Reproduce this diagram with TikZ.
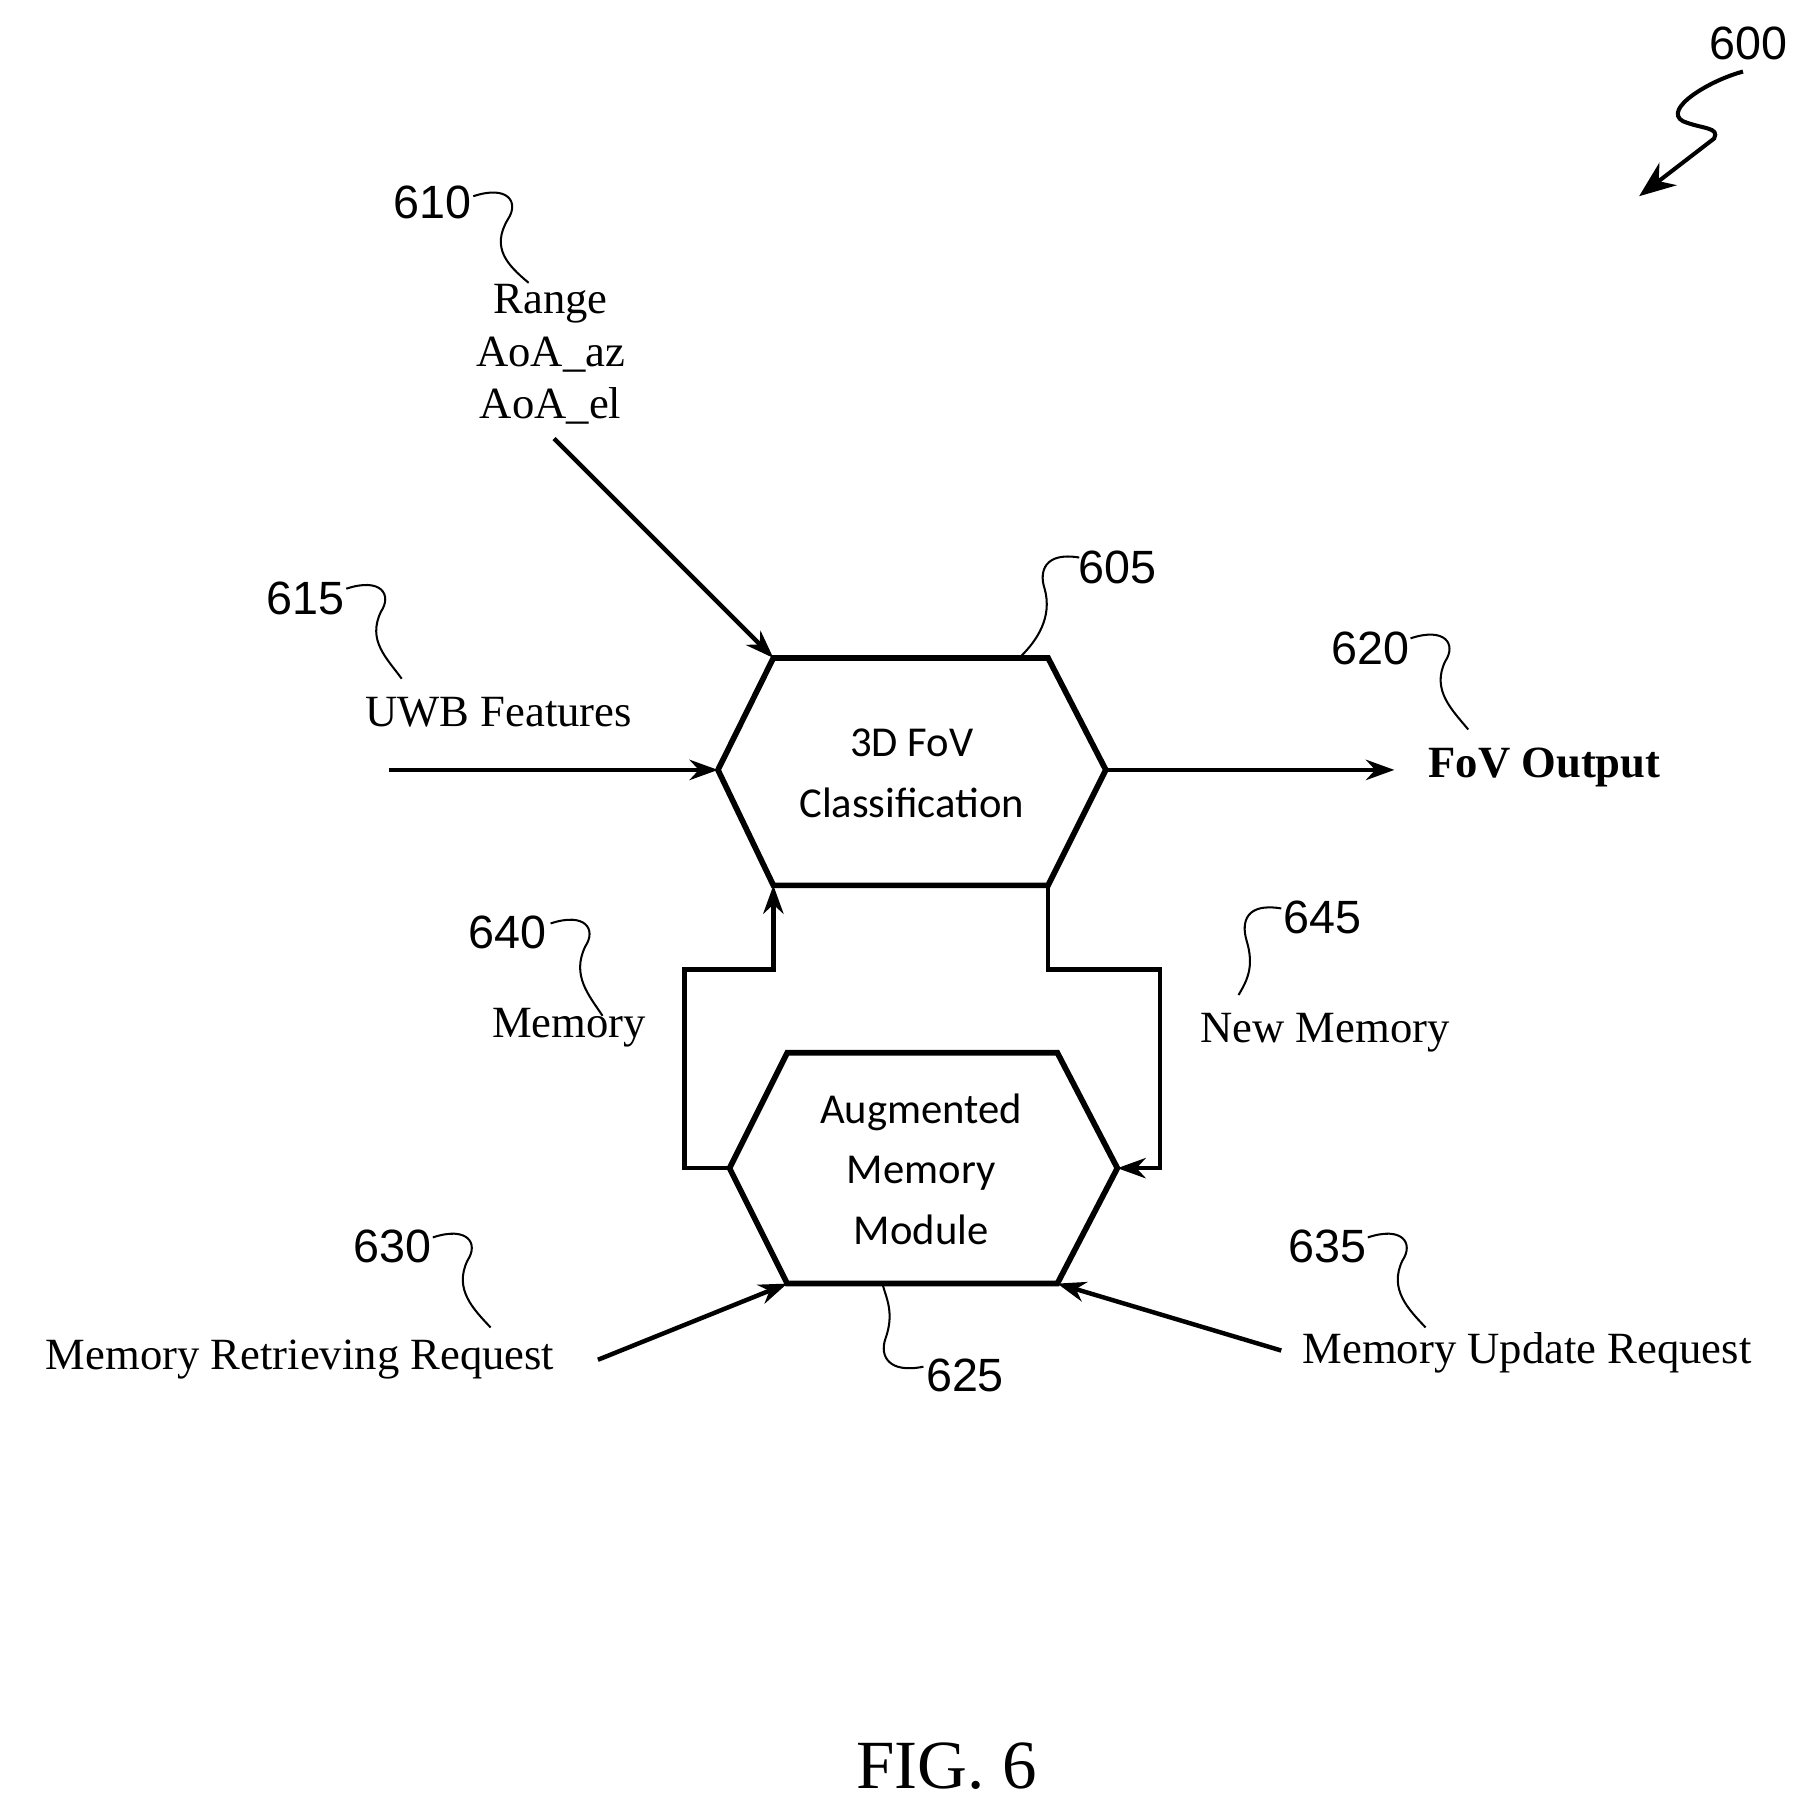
\documentclass[tikz,border=0pt]{standalone}
\usepackage{fontspec}
\setmainfont{Liberation Serif}
\newfontfamily\numfont{Liberation Sans}
\newfontfamily\boxfont{Carlito}
\usetikzlibrary{arrows.meta}
\tikzset{
  lbl/.style={font=\fontsize{11}{13}\selectfont},
  num/.style={font=\numfont\fontsize{11.5}{13}\selectfont},
  boxtxt/.style={font=\boxfont\fontsize{10.5}{15}\selectfont,align=center},
  wire/.style={line width=1.1pt,-{Stealth[length=7pt,width=5pt]}},
  lead/.style={line width=0.5pt},
  hexa/.style={line width=1.4pt}
}
\begin{document}
\begin{tikzpicture}[x=0.01cm,y=-0.01cm]
\useasboundingbox (0,0) rectangle (1562,1575);

% 3D FoV classification block
\coordinate (C1) at (670,570); \coordinate (C2) at (908,570);
\coordinate (C3) at (958,667); \coordinate (C4) at (908,767);
\coordinate (C5) at (670,767); \coordinate (C6) at (622,667);
\draw[hexa] (C1) -- (C2) -- (C3) -- (C4) -- (C5) -- (C6) -- cycle;
\node[boxtxt] (cls) at (790,670) {3D FoV\\Classification};

% augmented memory module
\coordinate (M1) at (682,912); \coordinate (M2) at (916,912);
\coordinate (M3) at (968,1012); \coordinate (M4) at (916,1112);
\coordinate (M5) at (682,1112); \coordinate (M6) at (632,1012);
\draw[hexa] (M1) -- (M2) -- (M3) -- (M4) -- (M5) -- (M6) -- cycle;
\node[boxtxt] (amm) at (798,1013) {Augmented\\Memory\\Module};

% inputs and outputs
\node[lbl,align=center] (rng) at (477,307) {Range\\AoA\_az\\AoA\_el};
\coordinate (rngS) at (480,380);
\draw[wire] (rngS) -- (C1);

\node[lbl] (uwb) at (432,617) {UWB Features};
\coordinate (uwbS) at (337,667);
\draw[wire] (uwbS) -- (C6);

\node[lbl,font=\bfseries\fontsize{11}{13}\selectfont] (out) at (1338,665) {FoV Output};
\coordinate (outE) at (1208,667);
\draw[wire] (C3) -- (outE);

\node[lbl] (mem) at (493,890) {Memory};
\draw[wire] (M6) -- (593,1012) -- (593,840) -- (670,840) -- (C5);

\node[lbl] (nmem) at (1148,895) {New Memory};
\draw[wire] (C4) -- (908,840) -- (1005,840) -- (1005,1012) -- (M3);

\node[lbl] (ret) at (260,1178) {Memory Retrieving Request};
\coordinate (retS) at (518,1178);
\draw[wire] (retS) -- (M5);

\node[lbl] (upd) at (1323,1172) {Memory Update Request};
\coordinate (updS) at (1110,1170);
\draw[wire] (updS) -- (M4);

% reference numerals
\node[num] (n600) at (1515,38) {600};
\node[num] (n610) at (375,175) {610};
\node[num] (n615) at (265,518) {615};
\node[num] (n605) at (968,492) {605};
\node[num] (n620) at (1187,562) {620};
\node[num] (n640) at (440,808) {640};
\node[num] (n645) at (1146,795) {645};
\node[num] (n630) at (340,1080) {630};
\node[num] (n635) at (1150,1080) {635};
\node[num] (n625) at (836,1192) {625};

\draw[lead] (410,170) .. controls (440,160) and (450,175) .. (440,190) .. controls (425,215) and (440,230) .. (458,245);
\draw[lead] (300,510) .. controls (330,500) and (340,515) .. (330,530) .. controls (318,555) and (335,570) .. (348,588);
\draw[lead] (935,483) .. controls (905,478) and (900,495) .. (905,510) .. controls (912,535) and (898,555) .. (885,568);
\draw[lead] (1222,553) .. controls (1252,543) and (1262,558) .. (1252,573) .. controls (1240,598) and (1258,615) .. (1272,632);
\draw[lead] (477,800) .. controls (507,790) and (517,805) .. (507,820) .. controls (495,845) and (510,862) .. (522,880);
\draw[lead] (1110,787) .. controls (1080,782) and (1075,798) .. (1080,815) .. controls (1087,838) and (1080,850) .. (1073,862);
\draw[lead] (375,1072) .. controls (405,1062) and (415,1077) .. (405,1092) .. controls (393,1117) and (410,1134) .. (425,1150);
\draw[lead] (1185,1072) .. controls (1215,1062) and (1225,1077) .. (1215,1092) .. controls (1203,1117) and (1220,1134) .. (1235,1150);
\draw[lead] (800,1184) .. controls (770,1190) and (762,1175) .. (767,1160) .. controls (775,1138) and (768,1125) .. (765,1114);

% overall arrow
\draw[line width=1pt,-{Stealth[length=9pt,width=7pt]}] (1510,62) .. controls (1480,70) and (1440,95) .. (1458,105)
  .. controls (1475,112) and (1490,110) .. (1485,120) -- (1420,170);

\node[font=\fontsize{17}{20}\selectfont] (fig) at (820,1530) {FIG. 6};
\end{tikzpicture}
\end{document}
